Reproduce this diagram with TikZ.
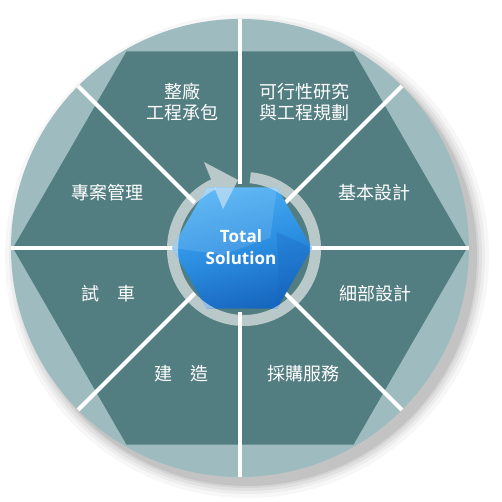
\documentclass[tikz,border=0pt]{standalone}
\usepackage{fontspec}
\usetikzlibrary{calc}
\newfontfamily\cjk{Noto Sans CJK TC}
\newfontfamily\tsfont{Open Sans}
\definecolor{outerc}{HTML}{9EBCBF}
\definecolor{hexc}{HTML}{537E81}
\definecolor{ringc}{HTML}{B9C9CA}
\definecolor{bluedark}{HTML}{1766BE}
\definecolor{bluemid}{HTML}{2C8FE2}
\definecolor{bluelight}{HTML}{4AAEF3}
\definecolor{bluepale}{HTML}{C8E2F4}
\tikzset{
  divider/.style={white,line width=4pt},
  label/.style={text=white,font=\cjk\fontsize{18}{21}\selectfont,align=center,inner sep=0pt},
  centerlabel/.style={text=white,font=\tsfont\bfseries\fontsize{17}{22}\selectfont,align=center,inner sep=0pt}
}
\begin{document}
\begin{tikzpicture}[x=1pt,y=1pt]
\useasboundingbox (0,0) rectangle (502,502);
% shadow
\foreach \r/\o in {242/0.03,238/0.04,235/0.05,232/0.06,230/0.08}{
  \fill[black,opacity=\o] (247,246) circle (\r);
}
% outer circle
\coordinate (C) at (240,254);
\fill[outerc] (C) circle (229);
% hexagon
\fill[hexc] (C) ++(0:227) -- ++(120:227) -- ++(180:227) -- ++(240:227) -- ++(300:227) -- ++(0:227) -- cycle;
% ring with arrow (opaque part)
\coordinate (R) at (244,253);
\coordinate (A1) at (204,340);
\coordinate (A2) at (238,322);
\coordinate (A3) at (223,293);
\draw[ringc,line width=11pt] (R) ++(85:71.5) arc[start angle=85,end angle=-245,radius=71.5];
\fill[ringc] (A1) -- (A2) -- (A3) -- cycle;
% dividers
\foreach \a in {0,45,...,315}{
  \draw[divider] ($(C)+(\a:64)$) -- ($(C)+(\a:229)$);
}
% blue hexagon
\coordinate (B) at (242,254);
\shade[top color=bluelight,bottom color=bluedark,middle color=bluemid,shading angle=15]
  (B) ++(0:70) -- ++(120:70) -- ++(180:70) -- ++(240:70) -- ++(300:70) -- ++(0:70) -- cycle;
\fill[bluedark,opacity=0.3] ($(B)+(-60:70)$) -- ($(B)+(0:70)$) -- ($(B)+(25:38)$) -- ($(B)+(-30:42)$) -- cycle;
\fill[white,opacity=0.12] ($(B)+(180:70)$) -- ($(B)+(120:70)$) -- ($(B)+(60:70)$) -- ($(B)+(20:30)$) -- ($(B)+(200:20)$) -- cycle;
% ring seen through the blue hexagon
\begin{scope}
  \clip (B) ++(0:70) -- ++(120:70) -- ++(180:70) -- ++(240:70) -- ++(300:70) -- ++(0:70) -- cycle;
  \draw[bluepale,opacity=0.7,line width=11pt] (R) ++(85:71.5) arc[start angle=85,end angle=-245,radius=71.5];
  \fill[bluepale,opacity=0.7] (A1) -- (A2) -- (A3) -- cycle;
\end{scope}
% labels
\node[label] (l1) at (182,400) {整廠\\工程承包};
\node[label] (l2) at (304,400) {可行性研究\\與工程規劃};
\node[label] (l3) at (107,309) {專案管理};
\node[label] (l4) at (374,309) {基本設計};
\node[label] (l5) at (108,208) {試　車};
\node[label] (l6) at (375,208) {細部設計};
\node[label] (l7) at (181,128) {建　造};
\node[label] (l8) at (303,128) {採購服務};
\node[centerlabel] (ts) at (241,255) {Total\\Solution};
\end{tikzpicture}
\end{document}
